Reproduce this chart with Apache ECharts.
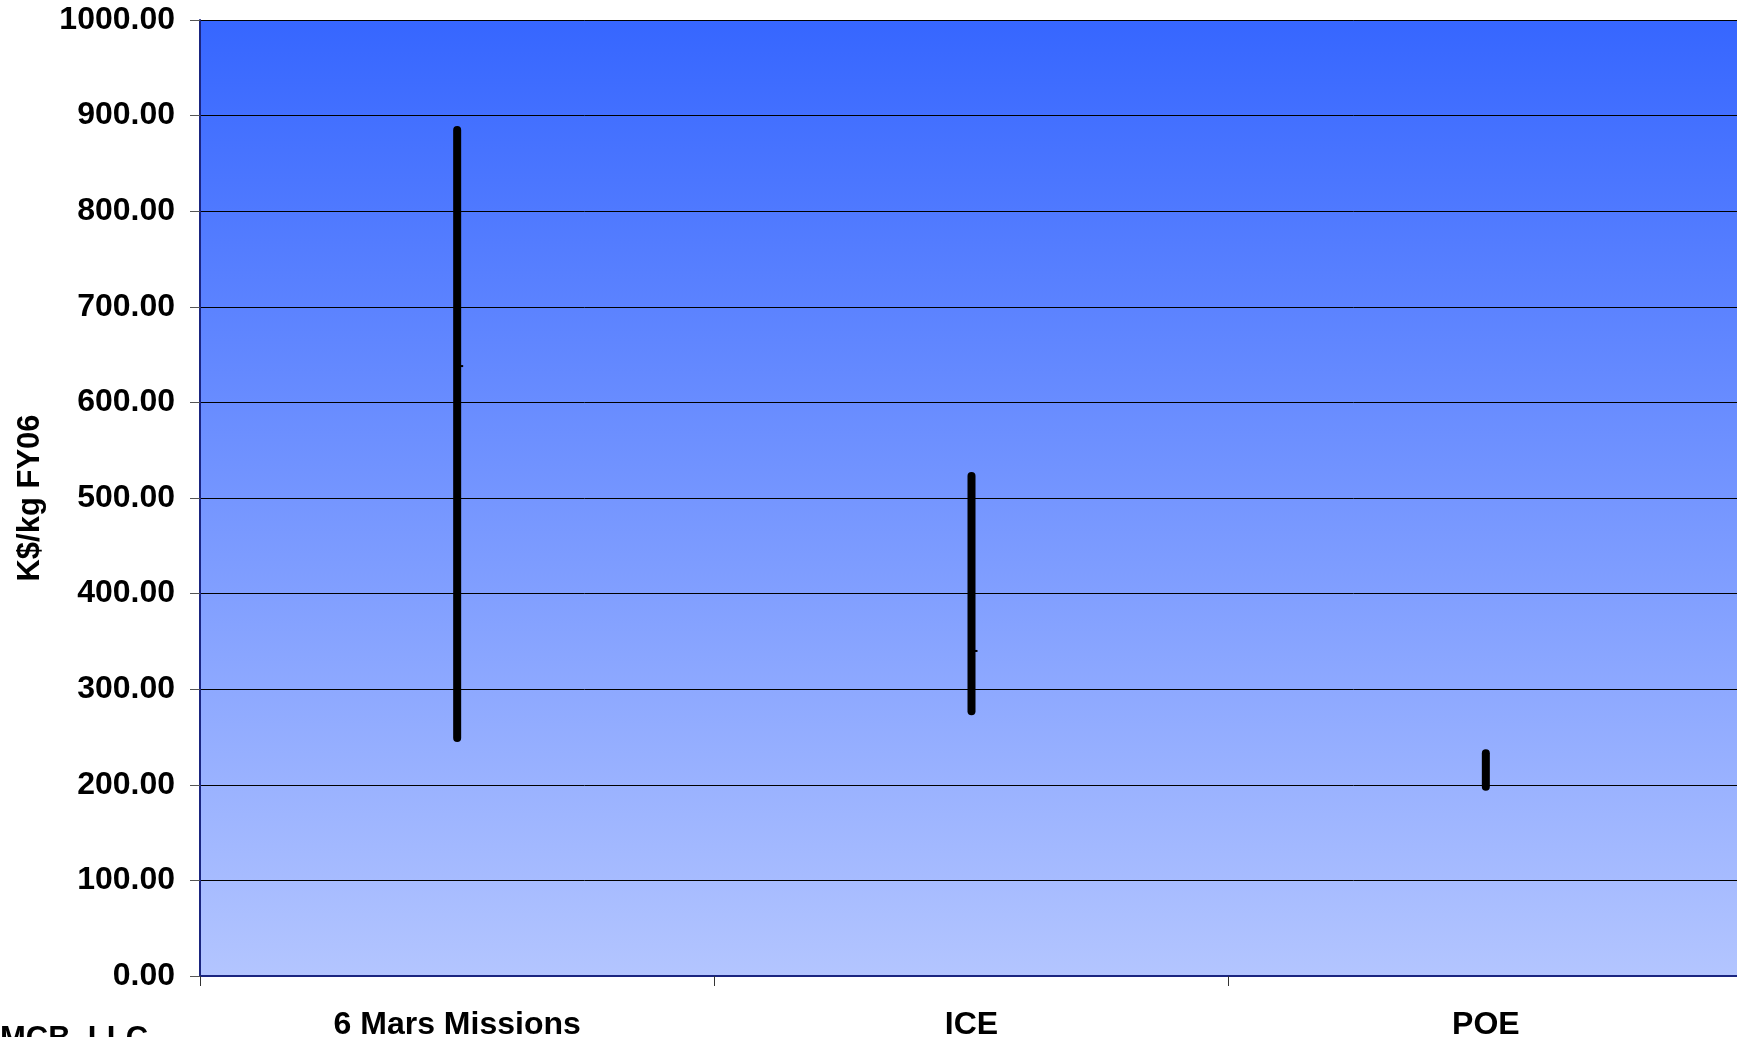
<!DOCTYPE html>
<html>
<head>
<meta charset="utf-8">
<title>K$/kg FY06</title>
<script src="https://cdn.jsdelivr.net/npm/echarts@6/dist/echarts.min.js"></script>
<style>
  html, body { margin: 0; padding: 0; background: #ffffff; }
  #chart { width: 1737px; height: 1037px; }
</style>
</head>
<body>
<div id="chart"></div>
<script>
// Cost ranges per mission set (K$/kg, FY06 dollars)
const categories = ['6 Mars Missions', 'ICE', 'POE'];
const highValues = [885, 523, 233];
const lowValues = [249, 277, 198];
const closeValues = [638, 340, null];
const yTicks = { min: 0, max: 1000, interval: 100 };

const FONT = '"Liberation Sans", Arial, sans-serif';

const seriesData = categories.map((c, i) => [i, lowValues[i], highValues[i], closeValues[i]]);

const chart = echarts.init(document.getElementById('chart'), null, { renderer: 'canvas' });

chart.setOption({
  animation: false,
  backgroundColor: '#ffffff',
  grid: {
    left: 200,
    top: 20,
    right: -6,
    bottom: 61,
    containLabel: false,
    outerBoundsMode: 'none',
    show: true,
    borderWidth: 0,
    backgroundColor: new echarts.graphic.LinearGradient(0, 0, 0, 1, [
      { offset: 0, color: '#3666FF' },
      { offset: 1, color: '#B3C5FF' }
    ])
  },
  xAxis: {
    type: 'category',
    data: categories,
    boundaryGap: true,
    axisLine: { show: true, lineStyle: { color: '#1a2580', width: 2 } },
    axisTick: { show: true, length: 10, lineStyle: { color: '#333333', width: 1 } },
    axisLabel: {
      margin: 33,
      color: '#000000',
      fontFamily: FONT,
      fontWeight: 'bold',
      fontSize: 32
    },
    splitLine: { show: false }
  },
  yAxis: {
    type: 'value',
    min: yTicks.min,
    max: yTicks.max,
    interval: yTicks.interval,
    name: 'K$/kg FY06',
    nameLocation: 'middle',
    nameGap: 154,
    nameRotate: 90,
    nameTextStyle: {
      color: '#000000',
      fontFamily: FONT,
      fontWeight: 'bold',
      fontSize: 31
    },
    axisLine: { show: true, lineStyle: { color: '#1a2580', width: 2 } },
    axisTick: { show: true, length: 10, lineStyle: { color: '#555555', width: 1 } },
    axisLabel: {
      margin: 25,
      color: '#000000',
      fontFamily: FONT,
      fontWeight: 'bold',
      fontSize: 32,
      formatter: v => v.toFixed(2)
    },
    splitLine: { show: true, lineStyle: { color: '#000000', width: 1 } }
  },
  series: [{
    type: 'custom',
    data: seriesData,
    encode: { x: 0, y: [1, 2] },
    renderItem: function (params, api) {
      const idx = api.value(0);
      const lo = api.coord([idx, api.value(1)]);
      const hi = api.coord([idx, api.value(2)]);
      const children = [{
        type: 'line',
        shape: { x1: lo[0], y1: lo[1], x2: hi[0], y2: hi[1] },
        style: { stroke: '#000000', lineWidth: 8, lineCap: 'round' }
      }];
      const close = api.value(3);
      if (close !== null && close !== undefined && !isNaN(close)) {
        const c = api.coord([idx, close]);
        children.push({
          type: 'line',
          shape: { x1: c[0], y1: c[1], x2: c[0] + 6, y2: c[1] },
          style: { stroke: '#000000', lineWidth: 2 }
        });
      }
      return { type: 'group', children: children };
    }
  }],
  graphic: [{
    type: 'text',
    left: 0,
    top: 1024,
    style: {
      text: 'MCB, LLC',
      fill: '#000000',
      font: 'bold 31px ' + FONT
    }
  }]
});
</script>
</body>
</html>
